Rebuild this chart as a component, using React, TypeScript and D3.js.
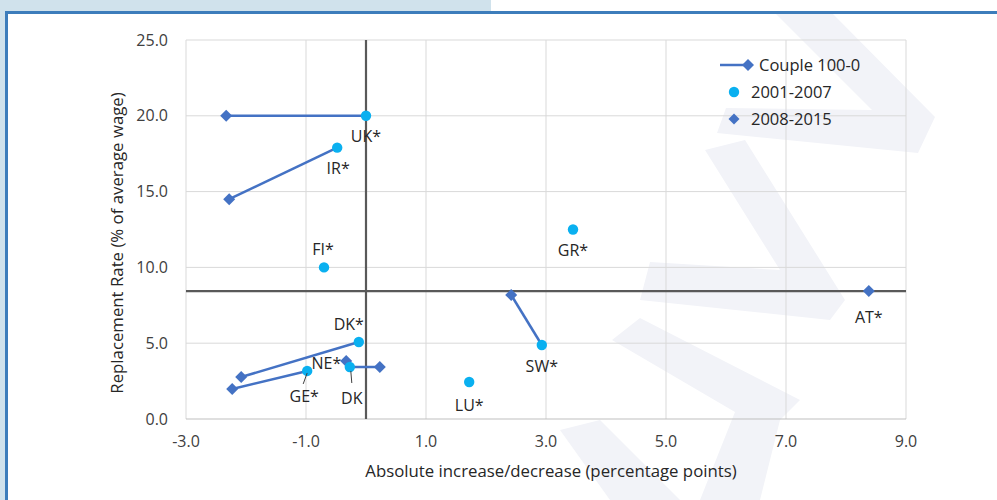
import React from "react";
import * as d3 from "d3";

// ---- data ----
const countries = ["UK*", "IR*", "FI*", "GR*", "AT*", "SW*", "LU*", "DK*", "GE*", "NE*", "DK"];
// 2001-2007 (circles): null where not shown
const x2001 = [0.0, -0.48, -0.7, 3.45, null, 2.93, 1.72, -0.12, -0.98, null, -0.27];
const y2001 = [20.0, 17.9, 10.0, 12.5, null, 4.88, 2.44, 5.08, 3.17, null, 3.43];
// 2008-2015 (diamonds)
const x2008 = [-2.33, -2.28, null, null, 8.38, 2.42, null, -2.08, -2.23, -0.33, 0.23];
const y2008 = [20.0, 14.5, null, null, 8.45, 8.18, null, 2.77, 1.98, 3.83, 3.43];

const xTicks = [-3, -1, 1, 3, 5, 7, 9];
const yTicks = [0, 5, 10, 15, 20, 25];
const refX = 0;
const refY = 8.44;

const legendItems = ["Couple 100-0", "2001-2007", "2008-2015"];
const xTitle = "Absolute increase/decrease (percentage points)";
const yTitle = "Replacement Rate (% of average wage)";

// label placement (styling, pixel offsets from the circle or diamond)
const labelPlace: Record<string, { dx: number; dy: number; anchor: string; on: "c" | "d"; leader?: number[] }> = {
  "UK*": { dx: 0, dy: 26, anchor: "middle", on: "c" },
  "IR*": { dx: 1, dy: 26, anchor: "middle", on: "c" },
  "FI*": { dx: -1, dy: -12, anchor: "middle", on: "c" },
  "GR*": { dx: 0, dy: 26, anchor: "middle", on: "c" },
  "AT*": { dx: 0, dy: 32, anchor: "middle", on: "d" },
  "SW*": { dx: 0, dy: 27, anchor: "middle", on: "c" },
  "LU*": { dx: 0, dy: 29, anchor: "middle", on: "c" },
  "DK*": { dx: -10, dy: -12, anchor: "middle", on: "c" },
  "GE*": { dx: -3, dy: 31, anchor: "middle", on: "c", leader: [0, 2, -4, 13] },
  "NE*": { dx: -5, dy: 8, anchor: "end", on: "d" },
  "DK": { dx: 2, dy: 37, anchor: "middle", on: "c", leader: [1, 4, 2, 16] },
};

const W = 997;
const H = 500;
const M = { left: 186, right: 906, top: 40, bottom: 419 };

const LINE = "#4472C4";
const DOT = "#0AB0F0";
const FONT = "'Open Sans', 'Liberation Sans', sans-serif";

export default function App() {
  const x = d3.scaleLinear().domain([-3, 9]).range([M.left, M.right]);
  const y = d3.scaleLinear().domain([0, 25]).range([M.bottom, M.top]);
  const fmt = (v: number) => v.toFixed(1);

  const diamond = (cx: number, cy: number, r = 6) =>
    `M${cx},${cy - r}L${cx + r},${cy}L${cx},${cy + r}L${cx - r},${cy}Z`;

  const lineGen = d3.line<[number, number]>().x((d) => x(d[0])).y((d) => y(d[1]));

  return (
    <svg width={W} height={H} style={{ position: "absolute", left: 0, top: 0, background: "#fff" }} fontFamily={FONT}>
      {/* frame */}
      <rect x={0} y={0} width={491} height={12} fill="#d0e2ec" />
      <rect x={0} y={0} width={6} height={H} fill="#d0e2ec" />
      <line x1={6} y1={12.5} x2={W} y2={12.5} stroke="#3d7dbb" strokeWidth={3} />
      <line x1={6.5} y1={11} x2={6.5} y2={H} stroke="#3d7dbb" strokeWidth={3} />

      {/* watermark */}
      <g fill="#f2f3f8">
        <polygon points="776,14 833,14 935,117 918,153 717,133 726,108 872,110" />
        <polygon points="705,150 745,140 845,300 830,320 640,300 650,262 780,270" />
        <polygon points="612,340 640,318 800,400 780,420 760,500 700,500 735,412" />
        <polygon points="560,430 600,420 680,500 610,500" />
      </g>

      {/* grid */}
      <g stroke="#d9d9d9" strokeWidth={1}>
        {xTicks.map((t) => (
          <line key={"gx" + t} x1={x(t)} x2={x(t)} y1={y(25)} y2={y(0)} />
        ))}
        {yTicks.map((t) => (
          <line key={"gy" + t} x1={x(-3)} x2={x(9)} y1={y(t)} y2={y(t)} stroke={t === 0 ? "#bfbfbf" : "#d9d9d9"} />
        ))}
      </g>

      {/* reference lines */}
      <line x1={x(refX)} x2={x(refX)} y1={y(25)} y2={y(0)} stroke="#595959" strokeWidth={2.2} />
      <line x1={x(-3)} x2={x(9)} y1={y(refY)} y2={y(refY)} stroke="#595959" strokeWidth={2.2} />

      {/* tick labels */}
      <g fontSize={16} fill="#404040">
        {xTicks.map((t) => (
          <text key={"tx" + t} x={x(t)} y={447} textAnchor="middle">
            {fmt(t)}
          </text>
        ))}
        {yTicks.map((t) => (
          <text key={"ty" + t} x={168} y={y(t) + 5.5} textAnchor="end">
            {fmt(t)}
          </text>
        ))}
      </g>

      {/* titles */}
      <text x={551} y={477} textAnchor="middle" fontSize={16.8} fill="#262626">
        {xTitle}
      </text>
      <text transform={`translate(123,243) rotate(-90)`} textAnchor="middle" fontSize={16.8} fill="#262626">
        {yTitle}
      </text>

      {/* connecting lines */}
      {countries.map((c, i) => {
        const a = x2001[i], b = y2001[i], p = x2008[i], q = y2008[i];
        if (a == null || b == null || p == null || q == null) return null;
        return (
          <path key={"l" + c} d={lineGen([[p, q], [a, b]]) || ""} stroke={LINE} strokeWidth={2.5} fill="none" />
        );
      })}

      {/* diamonds */}
      {countries.map((c, i) => {
        const p = x2008[i], q = y2008[i];
        if (p == null || q == null) return null;
        return <path key={"d" + c} d={diamond(x(p), y(q))} fill={LINE} />;
      })}

      {/* circles */}
      {countries.map((c, i) => {
        const a = x2001[i], b = y2001[i];
        if (a == null || b == null) return null;
        return <circle key={"c" + c} cx={x(a)} cy={y(b)} r={5.2} fill={DOT} />;
      })}

      {/* labels */}
      <g fontSize={16} fill="#262626">
        {countries.map((c, i) => {
          const lp = labelPlace[c];
          const px = lp.on === "c" ? x2001[i] : x2008[i];
          const py = lp.on === "c" ? y2001[i] : y2008[i];
          if (px == null || py == null) return null;
          const cx = x(px), cy = y(py);
          return (
            <g key={"t" + c}>
              {lp.leader && (
                <line
                  x1={cx + lp.leader[0]}
                  y1={cy + lp.leader[1]}
                  x2={cx + lp.leader[2]}
                  y2={cy + lp.leader[3]}
                  stroke="#404040"
                  strokeWidth={1}
                />
              )}
              <text x={cx + lp.dx} y={cy + lp.dy} textAnchor={lp.anchor}>
                {c}
              </text>
            </g>
          );
        })}
      </g>

      {/* legend */}
      <g fontSize={16.5} fill="#262626">
        <line x1={720} x2={748} y1={65} y2={65} stroke={LINE} strokeWidth={2.5} />
        <path d={diamond(748, 65)} fill={LINE} />
        <text x={759} y={71}>{legendItems[0]}</text>
        <circle cx={734} cy={92} r={5.2} fill={DOT} />
        <text x={751} y={98}>{legendItems[1]}</text>
        <path d={diamond(734, 119, 5.5)} fill={LINE} />
        <text x={751} y={125}>{legendItems[2]}</text>
      </g>
    </svg>
  );
}
